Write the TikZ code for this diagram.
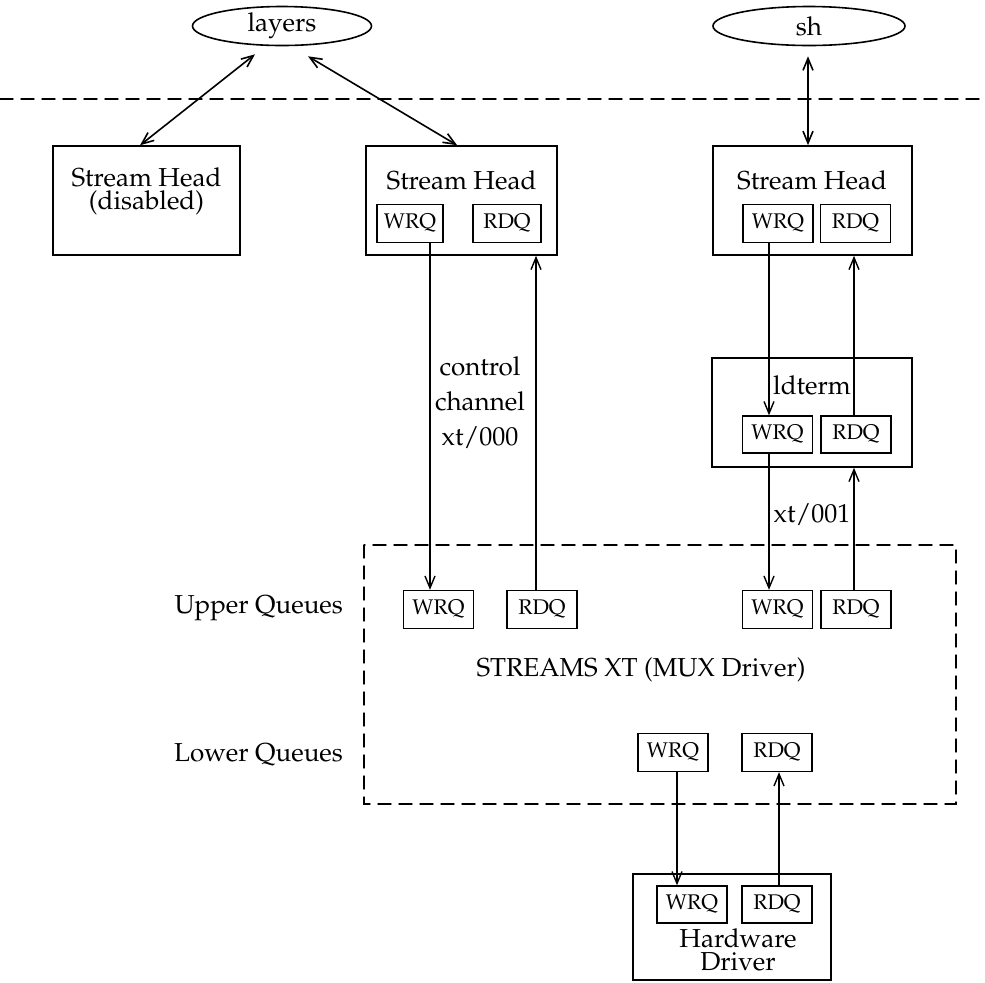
\documentclass[tikz,border=0pt]{standalone}
\usepackage[T1]{fontenc}
\usepackage{mathpazo}
\usepackage{tikz}
\usetikzlibrary{arrows.meta,shapes.geometric}

\begin{document}
\begin{tikzpicture}[x=0.5pt,y=-0.5pt,>={Straight Barb[length=6pt,width=5pt]},
  font=\fontsize{13}{11.5}\selectfont,line cap=round,
  box/.style={draw,line width=0.8pt,inner sep=0pt},
  qbox/.style={draw,line width=0.7pt,inner sep=0pt,minimum width=35pt,minimum height=19pt,font=\fontsize{10.6}{12}\selectfont},
  proc/.style={draw,ellipse,line width=0.8pt,inner sep=0pt,minimum height=19.5pt},
  flow/.style={->,line width=0.7pt},
  sep/.style={dash pattern=on 6.5pt off 4pt,line width=0.7pt}]
\useasboundingbox (0,0) rectangle (985,982);
\draw[sep] (0,99) -- (985,99);
\draw[sep] (364,545) rectangle (956,804);
\node[proc,minimum width=89.5pt] (layers) at (282,26) {layers};
\node[proc,minimum width=96pt] (sh) at (809,26) {sh};
\node[box,minimum width=93.5pt,minimum height=54.5pt] (shA) at (146.5,200.5) {};
\node[align=center] (shAtxt) at (146.5,191.5) {Stream Head\\(disabled)};
\node[box,minimum width=95.5pt,minimum height=54.5pt] (shB) at (461.5,200.5) {};
\node (shBtxt) at (461.5,180) {Stream Head};
\node[qbox,minimum width=33pt] (wqB) at (410,223.5) {WRQ};
\node[qbox,minimum width=34pt] (rqB) at (507,223.5) {RDQ};
\node[box,minimum width=99.5pt,minimum height=54.5pt] (shC) at (812.5,200.5) {};
\node (shCtxt) at (812,180) {Stream Head};
\node[qbox] (wqC) at (778,223.5) {WRQ};
\node[qbox] (rqC) at (855.5,223.5) {RDQ};
\node[box,minimum width=100pt,minimum height=54.5pt] (ldterm) at (812,412.5) {};
\node (ldtermtxt) at (812,385) {ldterm};
\node[qbox,minimum height=18.5pt] (wqL) at (777.5,434.5) {WRQ};
\node[qbox,minimum height=18.5pt] (rqL) at (856,434.5) {RDQ};
\node[qbox] (wqU1) at (438.5,609.5) {WRQ};
\node[qbox] (rqU1) at (542,609.5) {RDQ};
\node[qbox] (wqU2) at (777.5,609.5) {WRQ};
\node[qbox] (rqU2) at (856,609.5) {RDQ};
\node[qbox] (wqD) at (673,752.5) {WRQ};
\node[qbox] (rqD) at (777,752.5) {RDQ};
\node[box,minimum width=99pt,minimum height=53pt] (hw) at (732,927) {};
\node[qbox,minimum height=18.5pt] (wqH) at (692,904.5) {WRQ};
\node[qbox,minimum height=18.5pt] (rqH) at (777,904.5) {RDQ};
\node[align=center] (hwtxt) at (738,950) {Hardware\\Driver};
\node[anchor=east] (upper) at (350,608) {Upper Queues};
\node[anchor=east] (lower) at (350,755) {Lower Queues};
\node (xt) at (641,670) {STREAMS XT (MUX Driver)};
\node[align=center,font=\fontsize{13}{17.5}\selectfont] (ctl) at (480,403) {control\\channel\\xt/000};
\node (xt1) at (812,515) {xt/001};
\coordinate (cW1) at (430,0);
\coordinate (cR1) at (536,0);
\coordinate (cW2) at (769,0);
\coordinate (cR2) at (854,0);
\coordinate (cW3) at (677,0);
\coordinate (cR3) at (779,0);
\draw[<->,line width=0.8pt] ([xshift=-13.5pt,yshift=-4pt]layers.south) -- ([xshift=-3.2pt]shA.north);
\draw[<->,line width=0.8pt] ([xshift=13pt,yshift=-5pt]layers.south) -- ([xshift=-2.2pt]shB.north);
\draw[<->,line width=0.8pt] ([xshift=-0.5pt,yshift=-5pt]sh.south) -- ([xshift=-0.5pt]sh.south |- shC.north);
\draw[flow] (cW1 |- wqB.south) -- (cW1 |- wqU1.north);
\draw[flow] (cR1 |- rqU1.north) -- (cR1 |- shB.south);
\draw[flow] (cW2 |- wqC.south) -- (cW2 |- wqL.north);
\draw[flow] (cR2 |- rqL.north) -- (cR2 |- shC.south);
\draw[flow] (cW2 |- wqL.south) -- (cW2 |- wqU2.north);
\draw[flow] (cR2 |- rqU2.north) -- (cR2 |- ldterm.south);
\draw[flow] (cW3 |- wqD.south) -- (cW3 |- wqH.north);
\draw[flow] (cR3 |- rqH.north) -- (cR3 |- rqD.south);
\end{tikzpicture}
\end{document}
